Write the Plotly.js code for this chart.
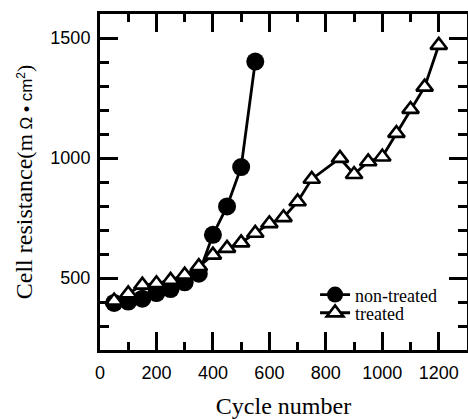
<!DOCTYPE html>
<html>
<head>
<meta charset="utf-8">
<script src="https://cdn.plot.ly/plotly-3.0.1.min.js"></script>
<style>html,body{margin:0;padding:0;background:#fff;}</style>
</head>
<body>
<div id="chart" style="width:468px;height:419px;"></div>
<script>
// Data
var cyclesNonTreated = [50, 100, 150, 200, 250, 300, 350, 400, 450, 500, 550];
var resistanceNonTreated = [396, 402, 414, 437, 454, 482, 518, 680, 798, 962, 1402];

var cyclesTreated = [50, 100, 150, 200, 250, 300, 350, 400, 450, 500, 550, 600, 650, 700, 750, 850, 900, 950, 1000, 1050, 1100, 1150, 1200];
var resistanceTreated = [405, 435, 471, 477, 491, 513, 548, 596, 624, 647, 687, 727, 752, 818, 912, 999, 932, 985, 1005, 1103, 1203, 1296, 1470];

var seriesNames = ["non-treated", "treated"];
var xTickValues = [0, 200, 400, 600, 800, 1000, 1200];
var yTickValues = [500, 1000, 1500];

var traces = [
  {
    x: cyclesNonTreated, y: resistanceNonTreated, name: seriesNames[0],
    type: 'scatter', mode: 'lines+markers',
    line: {color: '#000', width: 2.8},
    marker: {symbol: 'circle', size: 18, color: '#000'},
    legend: 'legend'
  },
  {
    x: cyclesTreated, y: resistanceTreated, name: seriesNames[1],
    type: 'scatter', mode: 'lines+markers',
    line: {color: '#000', width: 2.8},
    marker: {symbol: 'triangle-up', size: 14.5, color: '#fff', line: {color: '#000', width: 2.6}},
    legend: 'legend2'
  }
];

var tickFont = {family: 'Liberation Sans, Arial, sans-serif', size: 18, color: '#000'};
var serif = 'Liberation Serif, Times New Roman, serif';

var yTitle = 'Cell resistance' +
  '<span style="font-family:Liberation Serif;font-size:22px">(m</span>' +
  '<span style="font-family:Liberation Sans;font-size:17px"> Ω </span>' +
  '<span style="font-family:Liberation Sans;font-size:17px;font-weight:bold">•</span>' +
  '<span style="font-family:Liberation Sans;font-size:17px"> cm<sup>2</sup></span>' +
  '<span style="font-family:Liberation Serif;font-size:22px">)</span>';

var layout = {
  width: 468, height: 419,
  margin: {l: 100, r: 1, t: 14, b: 69},
  paper_bgcolor: '#fff', plot_bgcolor: '#fff',
  showlegend: true,
  xaxis: {
    range: [0, 1300],
    tickvals: xTickValues, ticktext: xTickValues.map(String),
    ticks: 'inside', ticklen: 18, tickwidth: 3, tickcolor: '#000',
    minor: {dtick: 100, tick0: 0, ticks: 'inside', ticklen: 8, tickwidth: 3, tickcolor: '#000'},
    showline: true, linewidth: 3, linecolor: '#000', mirror: 'ticks',
    showgrid: false, zeroline: false,
    tickfont: tickFont, ticklabelstandoff: 4,
    title: {text: 'Cycle number', font: {family: serif, size: 24, color: '#000'}, standoff: 18}
  },
  yaxis: {
    range: [200, 1600],
    tickvals: yTickValues, ticktext: yTickValues.map(String),
    ticks: 'inside', ticklen: 18, tickwidth: 3, tickcolor: '#000',
    minor: {dtick: 100, tick0: 0, ticks: 'inside', ticklen: 9, tickwidth: 3, tickcolor: '#000'},
    showline: true, linewidth: 3, linecolor: '#000', mirror: 'ticks',
    showgrid: false, zeroline: false,
    tickfont: tickFont, ticklabelstandoff: 3,
    title: {text: yTitle, font: {family: serif, size: 24, color: '#000'}, standoff: 11}
  },
  legend: {
    x: 0.586, y: 0.164, xanchor: 'left', yanchor: 'middle',
    bgcolor: 'rgba(0,0,0,0)', borderwidth: 0,
    font: {family: serif, size: 18, color: '#000'}
  },
  legend2: {
    x: 0.586, y: 0.110, xanchor: 'left', yanchor: 'middle',
    bgcolor: 'rgba(0,0,0,0)', borderwidth: 0,
    font: {family: serif, size: 18, color: '#000'}
  }
};

Plotly.newPlot('chart', traces, layout, {displayModeBar: false, staticPlot: true});
</script>
</body>
</html>
